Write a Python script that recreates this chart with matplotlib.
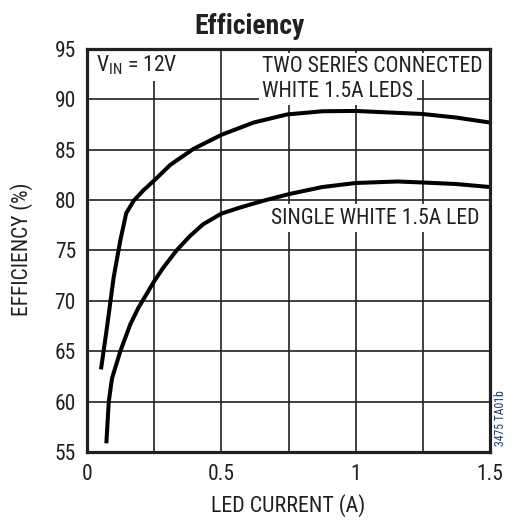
import matplotlib
matplotlib.use("Agg")
import matplotlib.pyplot as plt

# ---- data ----
two_x = [0.052, 0.074, 0.099, 0.124, 0.146, 0.174, 0.211, 0.252, 0.310, 0.397, 0.502,
         0.620, 0.744, 0.876, 1.0, 1.249, 1.373, 1.5]
two_y = [63.2, 67.3, 72.3, 76.0, 78.7, 79.95, 81.0, 82.0, 83.5, 85.1, 86.5,
         87.7, 88.5, 88.82, 88.85, 88.55, 88.2, 87.7]
one_x = [0.072, 0.081, 0.093, 0.124, 0.161, 0.191, 0.250, 0.283, 0.333, 0.383, 0.432,
         0.500, 0.569, 0.655, 0.752, 0.876, 1.0, 1.156, 1.249, 1.373, 1.5]
one_y = [55.86, 60.0, 62.3, 65.0, 67.66, 69.3, 71.95, 73.26, 75.0, 76.43, 77.6,
         78.66, 79.26, 79.93, 80.6, 81.3, 81.7, 81.85, 81.75, 81.6, 81.3]
x_ticks = [0, 0.5, 1, 1.5]
x_ticklabels = ["0", "0.5", "1", "1.5"]
y_ticks = [55, 60, 65, 70, 75, 80, 85, 90, 95]
x_grid = [0.25, 0.5, 0.75, 1.0, 1.25]

FONT = ["Roboto Condensed", "DejaVu Sans"]
plt.rcParams["font.family"] = FONT
plt.rcParams["mathtext.fontset"] = "custom"
plt.rcParams["mathtext.rm"] = "Roboto Condensed"

W, H = 519, 532
fig = plt.figure(figsize=(W / 100, H / 100), dpi=100)
L, R, T, B = 87, 490, 49, 452
ax = fig.add_axes([L / W, 1 - B / H, (R - L) / W, (B - T) / H])

ax.set_xlim(0, 1.5)
ax.set_ylim(55, 95)
ax.set_xticks(x_ticks)
ax.set_xticklabels(x_ticklabels)
ax.set_yticks(y_ticks)
ax.tick_params(length=0, labelsize=15.5, colors="#231f20")
ax.tick_params(axis="x", pad=9)
ax.tick_params(axis="y", pad=8)

for v in x_grid:
    ax.axvline(v, color="#231f20", lw=1.2, zorder=1)
for v in y_ticks[1:-1]:
    ax.axhline(v, color="#231f20", lw=1.2, zorder=1)

for s in ax.spines.values():
    s.set_linewidth(2.3)
    s.set_color("#231f20")
    s.set_zorder(5)

ax.plot(two_x, two_y, color="black", lw=2.9, zorder=3, solid_capstyle="butt",
        solid_joinstyle="round")
ax.plot(one_x, one_y, color="black", lw=2.9, zorder=3, solid_capstyle="butt",
        solid_joinstyle="round")

FS = 15.6
bb = dict(facecolor="white", edgecolor="none", pad=2.5)
ax.text(0.032, 92.75, r"V$_{\mathrm{IN}}$ = 12V", fontsize=FS, ha="left", va="baseline",
        color="#231f20", bbox=bb, zorder=4)
ax.text(0.652, 92.72, "TWO SERIES CONNECTED", fontsize=FS, ha="left", va="baseline",
        color="#231f20", bbox=bb, zorder=4)
ax.text(0.652, 90.24, "WHITE 1.5A LEDS", fontsize=FS, ha="left", va="baseline",
        color="#231f20", bbox=bb, zorder=4)
ax.text(0.685, 77.64, "SINGLE WHITE 1.5A LED", fontsize=FS, ha="left", va="baseline",
        color="#231f20", bbox=bb, zorder=4)

fig.text(250 / W, 1 - 27 / H, "Efficiency", fontsize=20, fontweight="bold",
         ha="center", va="center", color="#231f20")
fig.text(288.5 / W, 1 - 512 / H, "LED CURRENT (A)", fontsize=15.8, ha="center",
         va="baseline", color="#231f20")
fig.text(22 / W, 1 - 249 / H, "EFFICIENCY (%)", fontsize=15.5, ha="center",
         va="center", rotation=90, color="#231f20")
fig.text(500 / W, 1 - 418 / H, "3475 TA01b", fontsize=8.5, ha="center",
         va="center", rotation=90, color="#1f3a6e")

fig.savefig("out.png", dpi=100)
